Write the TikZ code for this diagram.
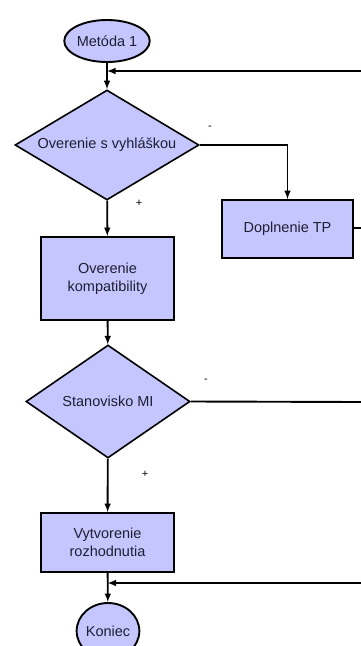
\documentclass[tikz,border=0pt]{standalone}
\usepackage{fontspec}
\setmainfont{Liberation Sans}
\usetikzlibrary{shapes.geometric}

\definecolor{blokfill}{RGB}{198,198,255}
\definecolor{bloktext}{RGB}{30,30,52}

\begin{document}
\begin{tikzpicture}[x=1pt, y=-1pt,
  every node/.style={font=\fontsize{14.5}{18}\selectfont, text=bloktext},
  krok/.style={rectangle, draw, line width=1.9pt, fill=blokfill, inner sep=0pt,
               minimum width=133pt, align=center},
  otazka/.style={diamond, draw, line width=1.6pt, fill=blokfill, inner sep=0pt},
  koncovy/.style={ellipse, draw, line width=1.9pt, fill=blokfill, inner sep=0pt},
  znak/.style={font=\fontsize{11}{12}\selectfont, text=black},
  spoj/.style={line width=1.9pt, -latex}]

\clip (0,0) rectangle (361,646);
\fill[white] (0,0) rectangle (361,646);

\node[koncovy, minimum width=85pt, minimum height=42pt] (start) at (107,41) {Metóda 1};
\node[otazka, aspect=1.7, minimum width=184pt, minimum height=110pt] (vyhlaska) at (107,145) {Overenie s vyhláškou};
\node[krok, minimum width=131pt, minimum height=58pt] (doplnenie) at (287.5,229) {Doplnenie TP};
\node[krok, minimum height=83pt] (kompat) at (107.5,278.5) {Overenie\\kompatibility};
\node[otazka, aspect=1.45, minimum width=164pt, minimum height=113pt] (mi) at (108,401.5) {Stanovisko MI};
\node[krok, minimum height=59pt] (rozhod) at (107.5,542.5) {Vytvorenie\\rozhodnutia};
\node[koncovy, minimum width=60pt, minimum height=56pt] (koniec) at (108,631) {Koniec};

% vetvy
\node[znak] (minus1) at (210,128) {-};
\node[znak] (plus1) at (139,203) {+};
\node[znak] (minus2) at (206,381) {-};
\node[znak] (plus2) at (145,474) {+};

\coordinate (spat1) at (361,71);
\coordinate (von1) at (361,228);
\coordinate (von2) at (361,402);
\coordinate (spat2) at (361,583);

\draw[spoj] (start) -- (vyhlaska);
\draw[spoj] (spat1) -- (spat1 -| start.south);
\draw[spoj] (vyhlaska.east) -| (doplnenie.north);
\draw[line width=1.9pt] (doplnenie.east |- von1) -- (von1);
\draw[spoj] (vyhlaska) -- (kompat);
\draw[spoj] (kompat) -- (mi);
\draw[line width=1.9pt] (mi.east) -- (von2);
\draw[spoj] (mi) -- (rozhod);
\draw[spoj] (rozhod) -- (koniec);
\draw[spoj] (spat2) -- (spat2 -| rozhod.south);

\end{tikzpicture}
\end{document}
